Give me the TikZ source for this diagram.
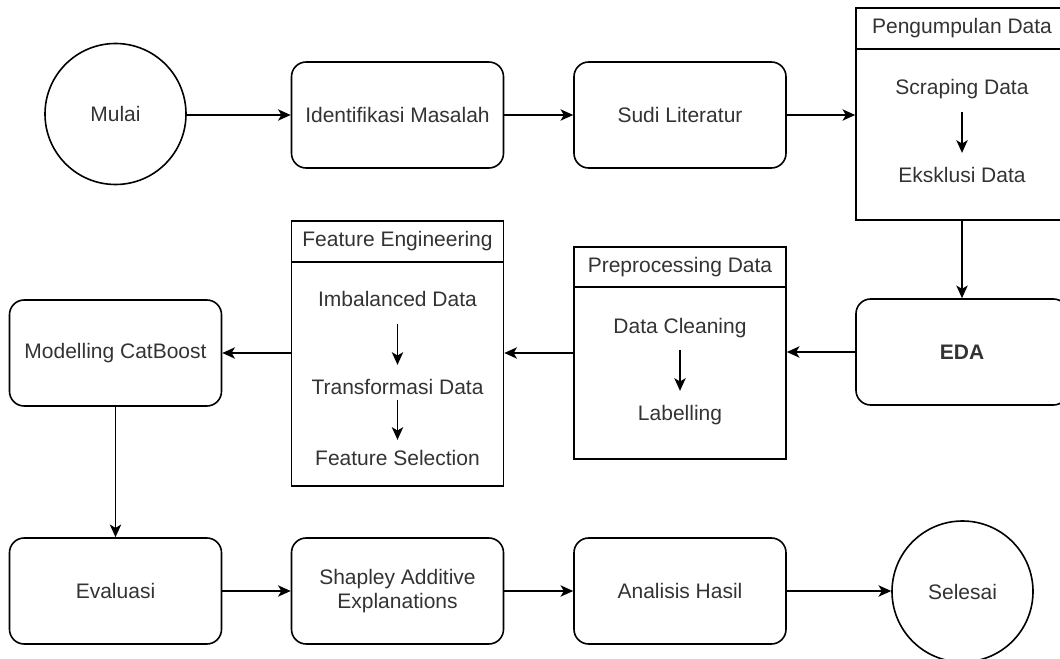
\documentclass[tikz,border=0pt]{standalone}
\usepackage{fontspec}
\setmainfont{Liberation Sans}
\usetikzlibrary{arrows.meta}
\definecolor{txt}{HTML}{333333}
\begin{document}
\begin{tikzpicture}[x=0.75pt,y=-0.75pt,
  line width=1.2pt,
  every node/.style={font=\fontsize{15.75}{19}\selectfont, text=txt},
  arr/.style={-{Stealth[length=9.5pt,width=8.5pt,inset=2.5pt]}},
  procbox/.style={draw=black, rounded corners=11pt, minimum width=159pt, minimum height=79.5pt, inner sep=0pt},
  termcircle/.style={draw=black, circle, minimum size=105.75pt, inner sep=0pt},
  groupbox/.style={draw=black, minimum width=159pt, inner sep=0pt},
  label/.style={inner sep=0pt, text height=0.75em, text depth=0.25em, yshift=-3pt}
]
\useasboundingbox (0,0) rectangle (1060,659);

% top row
\node[termcircle] (mulai) at (115.5,114) {Mulai};
\node[procbox] (identifikasi) at (397.5,115) {Identifikasi Masalah};
\node[procbox] (sudi) at (680,115) {Sudi Literatur};

% data collection group
\node[groupbox, minimum height=159pt] (pengumpulan) at (962,114) {};
\draw (pengumpulan.west |- 0,49) -- (pengumpulan.east |- 0,49);
\node[label] (pengumpulanT) at (962,26.5) {Pengumpulan Data};
\node[label] (scraping) at (962,87) {Scraping Data};
\node[label] (eksklusi) at (962,175) {Eksklusi Data};
\draw[arr, shorten <=10pt, shorten >=14pt] (scraping) -- (eksklusi);

% middle row
\node[procbox] (eda) at (962,352) {\bfseries EDA};

\node[groupbox, minimum height=159pt] (prep) at (680,353) {};
\draw (prep.west |- 0,287) -- (prep.east |- 0,287);
\node[label] (prepT) at (680,265) {Preprocessing Data};
\node[label] (cleaning) at (680,326) {Data Cleaning};
\node[label] (labelling) at (680,413) {Labelling};
\draw[arr, shorten <=9.4pt, shorten >=14pt] (cleaning) -- (labelling);

\node[groupbox, minimum height=198.75pt] (fe) at (397.5,353.5) {};
\draw (fe.west |- 0,262) -- (fe.east |- 0,262);
\node[label] (feT) at (397.5,239.5) {Feature Engineering};
\node[label] (imbal) at (397.5,299) {Imbalanced Data};
\node[label] (transf) at (397.5,387) {Transformasi Data};
\node[label] (fsel) at (397.5,458) {Feature Selection};
\draw[arr, shorten <=10pt, shorten >=14pt] (imbal) -- (transf);
\draw[arr, shorten <=1.5pt, shorten >=11pt] (transf) -- (fsel);

\node[procbox] (modelling) at (115.5,353) {Modelling CatBoost};

% bottom row
\node[procbox] (evaluasi) at (115.5,591) {Evaluasi};
\node[procbox] (shapley) at (397.5,591) {\begin{tabular}{@{}c@{}}Shapley Additive\\[-1pt]Explanations\end{tabular}};
\node[procbox] (analisis) at (680,591) {Analisis Hasil};
\node[termcircle] (selesai) at (962.5,591.5) {Selesai};

% flow
\draw[arr] (mulai.east |- identifikasi.west) -- (identifikasi.west);
\draw[arr] (identifikasi) -- (sudi);
\draw[arr] (sudi.east) -- (sudi.east -| pengumpulan.west);
\draw[arr] (pengumpulan.south) -- (eda.north);
\draw[arr] (eda.west) -- (eda.west -| prep.east);
\draw[arr] (prep.west) -- (prep.west -| fe.east);
\draw[arr] (fe.west |- modelling.east) -- (modelling.east);
\draw[arr] (modelling.south) -- (evaluasi.north);
\draw[arr] (evaluasi) -- (shapley);
\draw[arr] (shapley) -- (analisis);
\draw[arr] (analisis.east) -- (analisis.east -| selesai.west);
\end{tikzpicture}
\end{document}
